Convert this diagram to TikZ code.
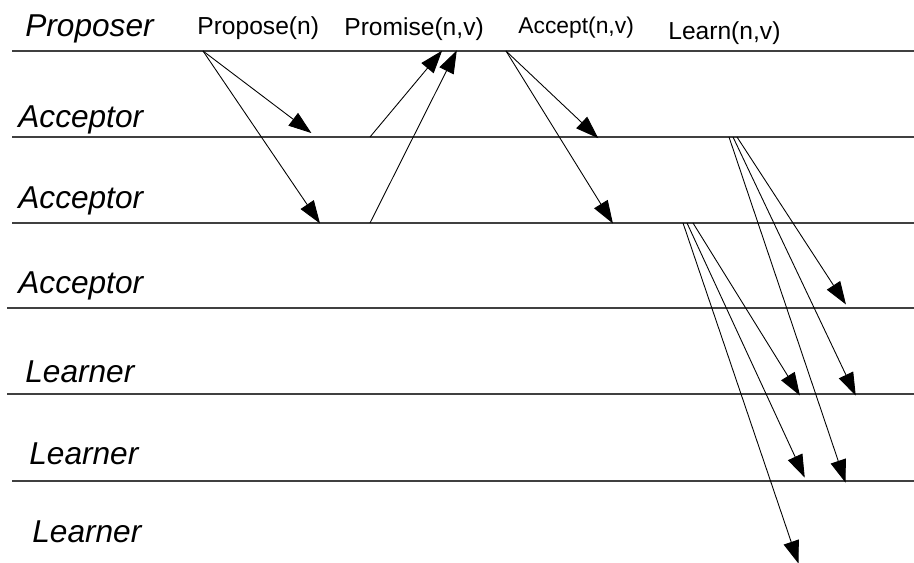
\documentclass[tikz,border=0pt]{standalone}
\usepackage{fontspec}
\setmainfont{Liberation Sans}
\usetikzlibrary{arrows.meta}

\begin{document}
\begin{tikzpicture}[x=0.02cm,y=-0.02cm,
  role/.style={anchor=base west,inner sep=0pt,font=\fontsize{18}{20}\selectfont\itshape},
  msg/.style={anchor=base west,inner sep=0pt,font=\fontsize{14}{16}\selectfont},
  lane/.style={draw=black!75,line width=1.1pt},
  arr/.style={-{Triangle[length=13pt,width=9pt]},line width=0.5pt,shorten >=-1pt}]
  \useasboundingbox (0,0) rectangle (914,563);
  % lanes
  \foreach \y/\x in {51/12,137/12,223/12,308/7,394/7,481/12}
    \draw[lane] (\x,\y) -- (914,\y);
  % roles
  \node[role] (prop) at (25,37) {Proposer};
  \node[role] (acc1) at (18,128) {Acceptor};
  \node[role] (acc2) at (18,209) {Acceptor};
  \node[role] (acc3) at (18,294) {Acceptor};
  \node[role] (lrn1) at (25,383) {Learner};
  \node[role] (lrn2) at (29,465) {Learner};
  \node[role] (lrn3) at (32,543) {Learner};
  % messages
  \node[msg] (mpropose) at (197,35) {Propose(n)};
  \node[msg] (mpromise) at (344,36) {Promise(n,v)};
  \node[msg,font=\fontsize{13}{15}\selectfont] (maccept) at (518,34) {Accept(n,v)};
  \node[msg] (mlearn) at (668,40) {Learn(n,v)};
  % phase 1
  \coordinate (p0) at (203,51);
  \coordinate (pa1) at (310,132);
  \coordinate (pa2) at (319,222);
  \draw[arr] (p0) -- (pa1);
  \draw[arr] (p0) -- (pa2);
  \coordinate (r1) at (370,137);
  \coordinate (r2) at (370,223);
  \coordinate (rp1) at (441,52);
  \coordinate (rp2) at (456,52);
  \draw[arr] (r1) -- (rp1);
  \draw[arr] (r2) -- (rp2);
  % phase 2
  \coordinate (c0) at (506,51);
  \coordinate (ca1) at (597,137);
  \coordinate (ca2) at (612,222);
  \draw[arr] (c0) -- (ca1);
  \draw[arr] (c0) -- (ca2);
  % learn
  \foreach \sx/\tx/\ty [count=\i] in {729/845/481,733/855/394,737/845/303}{
    \coordinate (la\i) at (\sx,137);
    \coordinate (lt\i) at (\tx,\ty);
    \draw[arr] (la\i) -- (lt\i);
  }
  \foreach \sx/\tx/\ty [count=\i] in {683/798/562,687/804/476,693/799/394}{
    \coordinate (lb\i) at (\sx,223);
    \coordinate (lu\i) at (\tx,\ty);
    \draw[arr] (lb\i) -- (lu\i);
  }
\end{tikzpicture}
\end{document}
